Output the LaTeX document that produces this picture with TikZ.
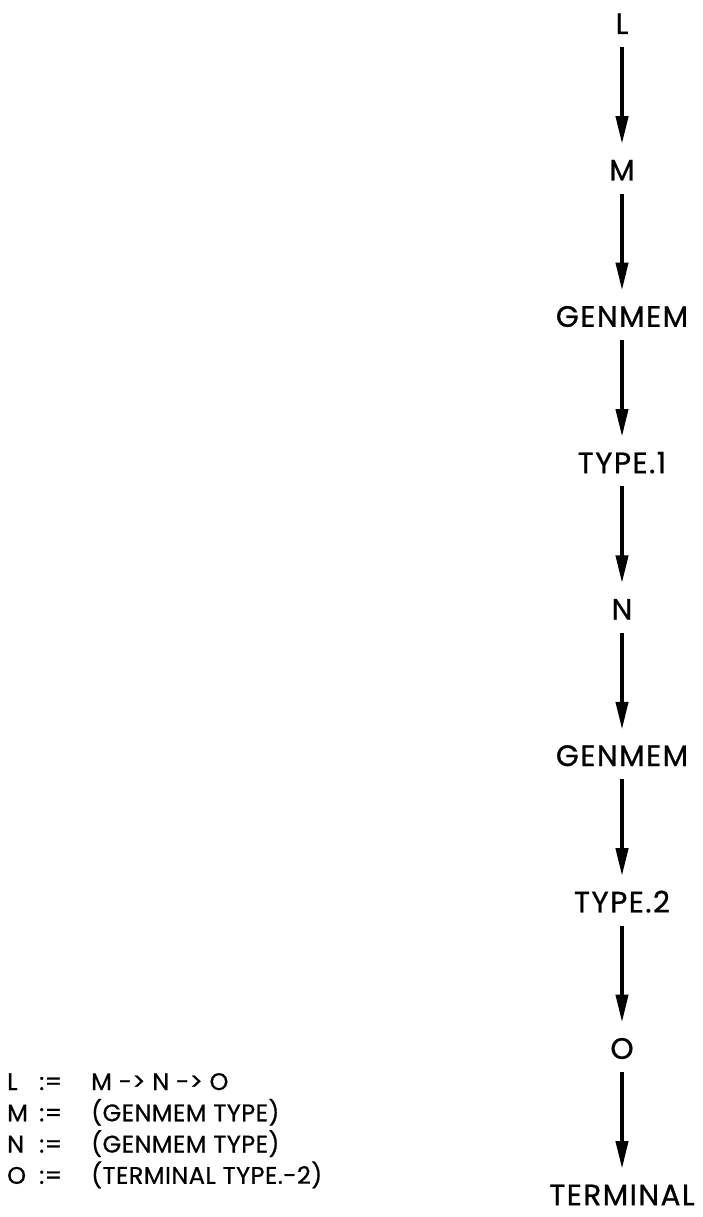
\documentclass[tikz,border=0pt]{standalone}
\usepackage{fontspec}
\setmainfont{Poppins}
\newfontfamily\labelfont[LetterSpace=5, FakeBold=0.8]{Poppins}
\newfontfamily\defsfont[LetterSpace=2, FakeBold=0.6]{Poppins}
\usetikzlibrary{arrows.meta, positioning}

\begin{document}
\begin{tikzpicture}[
    x=1pt, y=1pt,
    node distance=126pt,
    term/.style={inner sep=0pt, text height=20pt, text depth=0pt,
                 font=\labelfont\fontsize{29.5}{32}\selectfont},
    arr/.style={-{Triangle[length=28pt, width=12pt]}, line width=4pt,
                shorten <=13pt, shorten >=16pt},
    defs/.style={anchor=base west, inner sep=0pt,
                 font=\defsfont\fontsize{24}{29.5}\selectfont}
]
\useasboundingbox (0,0) rectangle (702,-1217);

\node[term] (l) at (622,-24) {L};
\node[term, below=of l] (m) {M};
\node[term, below=of m] (gen1) {GENMEM};
\node[term, below=of gen1] (type1) {TYPE.1};
\node[term, below=of type1] (n) {N};
\node[term, below=of n] (gen2) {GENMEM};
\node[term, below=of gen2] (type2) {TYPE.2};
\node[term, below=of type2] (o) {O};
\node[term, below=of o] (termnl) {TERMINAL};

\draw[arr] (l) -- (m);
\draw[arr] (m) -- (gen1);
\draw[arr] (gen1) -- (type1);
\draw[arr] (type1) -- (n);
\draw[arr] (n) -- (gen2);
\draw[arr] (gen2) -- (type2);
\draw[arr] (type2) -- (o);
\draw[arr] (o) -- (termnl);

% definitions
\node[defs] (legend) at (7,-1090) {%
  \begin{tabular}[t]{@{}p{32pt}@{}p{52pt}@{}l@{}}
  L & := & M -> N -> O\\
  M & := & (GENMEM TYPE)\\
  N & := & (GENMEM TYPE)\\
  O & := & (TERMINAL TYPE.-2)
  \end{tabular}};
\end{tikzpicture}
\end{document}
